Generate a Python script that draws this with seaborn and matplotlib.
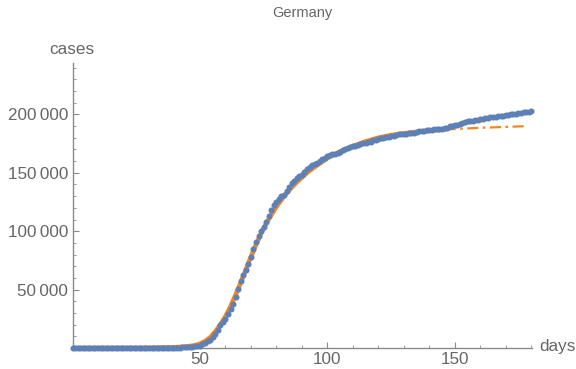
import numpy as np
import pandas as pd
import matplotlib
matplotlib.use("Agg")
import matplotlib.pyplot as plt
import seaborn as sns
from matplotlib.ticker import MultipleLocator, FuncFormatter

# cumulative confirmed cases, one value per day (day 0 = first day of the series)
cases = [
    0, 0, 0, 0, 0, 1, 4, 4, 4, 5,
    8, 10, 12, 12, 12, 12, 13, 13, 14, 14,
    16, 16, 16, 16, 16, 16, 16, 16, 16, 16,
    16, 16, 16, 16, 17, 27, 46, 48, 79, 130,
    159, 196, 262, 482, 670, 799, 1040, 1176, 1457, 1908,
    2078, 3675, 4585, 5795, 7272, 9257, 12327, 15320, 19848, 22213,
    24873, 29056, 32986, 37323, 43938, 50871, 57695, 62095, 66885, 71808,
    77872, 84794, 91159, 96092, 100123, 103374, 107663, 113296, 118181, 122171,
    124908, 127854, 130072, 131359, 134753, 137698, 141397, 143342, 145184, 147065,
    148291, 150648, 153129, 154999, 156513, 157770, 158758, 159912, 161539, 163009,
    164077, 164967, 165664, 166152, 167007, 168162, 169430, 170588, 171324, 171879,
    172576, 173171, 174098, 174478, 175233, 175752, 176369, 176551, 177778, 178473,
    179021, 179710, 179986, 180328, 180600, 181200, 181524, 182196, 182922, 183189,
    183410, 183594, 183879, 184121, 184472, 184924, 185450, 185750, 186109, 186506,
    186522, 186691, 187226, 187267, 187518, 187682, 188252, 188604, 189817, 190299,
    190670, 191272, 191768, 192556, 193499, 194036, 194458, 194693, 195042, 195418,
    195893, 196324, 196780, 197198, 197523, 197784, 198064, 198343, 198699, 199001,
    199375, 199707, 199919, 200180, 200456, 200890, 201372, 201823, 202174, 202426,
    202735,
]

# fitted curve
fit_days = [0, 20, 30, 40, 45, 48, 50, 52, 54, 56, 58, 60, 62, 64, 66, 68, 70,
            72, 74, 76, 78, 80, 82, 84, 86, 88, 90, 93, 96, 100, 105, 110, 115,
            120, 125, 130, 135, 140, 146, 150, 160, 170, 178]
fit_cases = [0, 50, 150, 600, 1300, 2300, 3600, 5800, 9000, 14000, 20000, 27000,
             35500, 45500, 56000, 67000, 78000, 88500, 98000, 106500, 114000,
             121000, 127000, 132500, 137500, 142000, 146000, 151800, 156500,
             162500, 168300, 172800, 176800, 180000, 182200, 183700, 185000,
             186000, 187000, 187500, 188500, 189300, 189900]
fit_end = 146  # last day the fit was made on

BLUE = "#5D81B6"
ORANGE = "#F7861C"
GREY = "#666666"

sns.set_style("white")
plt.rcParams["font.family"] = ["Liberation Sans", "DejaVu Sans"]

df = pd.DataFrame({"day": np.arange(len(cases)), "cases": cases})
fit = pd.DataFrame({"day": fit_days, "cases": fit_cases})
fit_in = fit[fit["day"] <= fit_end]
fit_out = fit[fit["day"] >= fit_end]

fig = plt.figure(figsize=(5.76, 3.69), dpi=100)
ax = fig.add_axes([72.5 / 576, 21 / 369, 459.5 / 576, 285 / 369])

sns.lineplot(data=fit_in, x="day", y="cases", color=ORANGE, lw=3.3, ax=ax, zorder=2)
sns.lineplot(data=fit_out, x="day", y="cases", color=ORANGE, lw=1.6,
             dashes=False, ax=ax, zorder=2).lines[-1].set_dashes([5, 2, 1.2, 2])
sns.scatterplot(data=df, x="day", y="cases", color=BLUE, s=19, linewidth=0,
                ax=ax, zorder=3, clip_on=False)

ax.set_xlim(0, 180.3)
ax.set_ylim(0, 244000)

ax.xaxis.set_major_locator(MultipleLocator(50))
ax.xaxis.set_minor_locator(MultipleLocator(10))
ax.yaxis.set_major_locator(MultipleLocator(50000))
ax.yaxis.set_minor_locator(MultipleLocator(10000))
ax.yaxis.set_major_formatter(FuncFormatter(
    lambda v, p: "" if v == 0 else f"{int(v):,}".replace(",", "\u2009")))
ax.xaxis.set_major_formatter(FuncFormatter(lambda v, p: "" if v == 0 else f"{int(v)}"))

for side in ["top", "right"]:
    ax.spines[side].set_visible(False)
for side in ["left", "bottom"]:
    ax.spines[side].set_color("#8a8a8a")
    ax.spines[side].set_linewidth(1.0)

ax.tick_params(which="both", direction="in", colors="#8a8a8a", labelcolor=GREY,
               labelsize=12.3, left=True, bottom=True)
ax.tick_params(which="major", length=4.5, width=0.8, pad=3)
ax.tick_params(which="minor", length=2.5, width=0.6)

ax.set_xlabel("")
ax.set_ylabel("")
fig.text(72 / 576, 1 - 49 / 369, "cases", ha="center", va="center",
         fontsize=12.3, color=GREY)
fig.text(539 / 576, 1 - 347 / 369, "days", ha="left", va="center",
         fontsize=12.3, color=GREY)
fig.text(302 / 576, 1 - 13 / 369, "Germany", ha="center", va="center",
         fontsize=10.5, color=GREY)

fig.savefig("out.png", dpi=100)
plt.close(fig)
